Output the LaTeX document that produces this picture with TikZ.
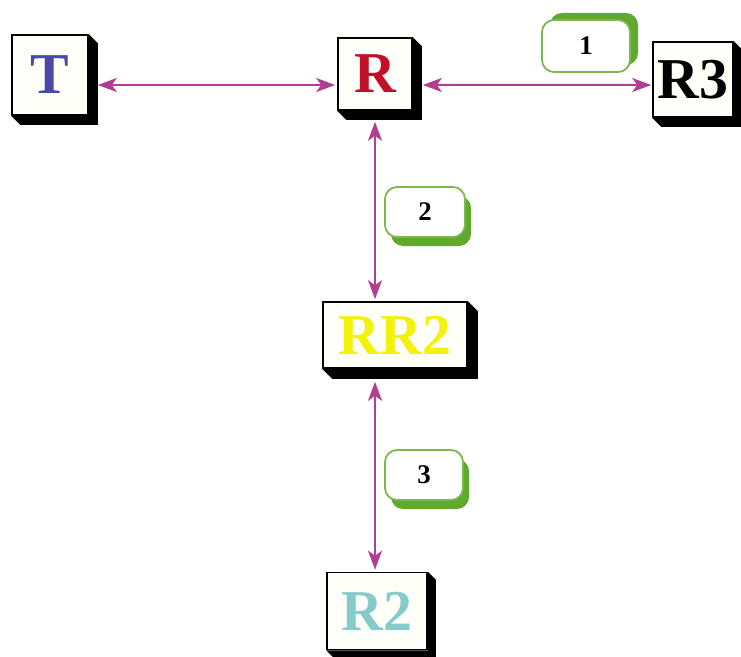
\documentclass[tikz,border=0pt]{standalone}
\usepackage{fontspec}
\setmainfont{Liberation Serif}
\usetikzlibrary{calc,shadows,arrows.meta}
\definecolor{arrc}{HTML}{B0408F}
\definecolor{gline}{HTML}{7DB84E}
\definecolor{gshad}{HTML}{5FAA2E}
\definecolor{tblue}{HTML}{4A48A8}
\definecolor{rred}{HTML}{C0102A}
\definecolor{ryel}{HTML}{F2F20A}
\definecolor{rcyan}{HTML}{86CACA}
\definecolor{face}{HTML}{FFFFFA}
\tikzset{
  box/.style={draw=black, line width=1.6bp, fill=face, inner sep=0pt,
    font=\fontsize{58}{58}\selectfont\bfseries},
  tag/.style={draw=gline, line width=1.8bp, fill=white, rounded corners=12bp,
    inner sep=0pt, font=\fontsize{27}{27}\selectfont\bfseries},
  arr/.style={draw=arrc, line width=2bp, {Stealth[length=19bp,width=14bp,inset=5bp]}-{Stealth[length=19bp,width=14bp,inset=5bp]}},
}
\newcommand{\extrude}[2]{%
  \fill[black] (#1.south west) -- ($(#1.south west)+(#2,#2)$) -- ($(#1.south east)+(#2,#2)$)
    -- ($(#1.north east)+(#2,#2)$) -- (#1.north east) -- (#1.south east) -- cycle;}
\begin{document}
\begin{tikzpicture}[x=1bp,y=-1bp]
\useasboundingbox[fill=white] (0,0) rectangle (741,657);
% boxes
\node[box, minimum width=76bp, minimum height=80bp, text=tblue] (T) at (50,75) {\raisebox{-7bp}{T}};
\node[box, minimum width=74bp, minimum height=72bp, text=rred] (R) at (375,74) {\raisebox{-7bp}{R}};
\node[box, minimum width=80bp, minimum height=75bp, text=black] (R3) at (693,79.5) {\raisebox{-8bp}{R3}};
\node[box, minimum width=144bp, minimum height=66bp, text=ryel] (RR2) at (395,335) {\raisebox{-3bp}{RR2}};
\node[box, minimum width=100bp, minimum height=77bp, text=rcyan] (R2) at (377,611) {\raisebox{-4bp}{R2}};
\extrude{T}{9}
\extrude{R}{9}
\extrude{R3}{9}
\extrude{RR2}{10}
\extrude{R2}{8}
% tags
\node[tag, minimum width=88bp, minimum height=52bp,
  drop shadow={shadow xshift=8bp, shadow yshift=7bp, fill=gshad, opacity=1}] (L1) at (586,46) {1};
\node[tag, minimum width=80bp, minimum height=50bp,
  drop shadow={shadow xshift=6bp, shadow yshift=-9bp, fill=gshad, opacity=1}] (L2) at (425,212) {2};
\node[tag, minimum width=78bp, minimum height=50bp,
  drop shadow={shadow xshift=6bp, shadow yshift=-9bp, fill=gshad, opacity=1}] (L3) at (424,475) {3};
% connectors
\draw[arr] ($(T.east)+(9,10)$) -- ($(R.west)+(-2,11)$);
\draw[arr] ($(R.east)+(10,11)$) -- ($(R3.west)+(-1,5.5)$);
\draw[arr] ($(R.south)+(0,11)$) -- ($(RR2.north)+(-20,-2)$);
\draw[arr] ($(RR2.south)+(-20,13)$) -- ($(R2.north)+(-2,-2)$);
\end{tikzpicture}
\end{document}
